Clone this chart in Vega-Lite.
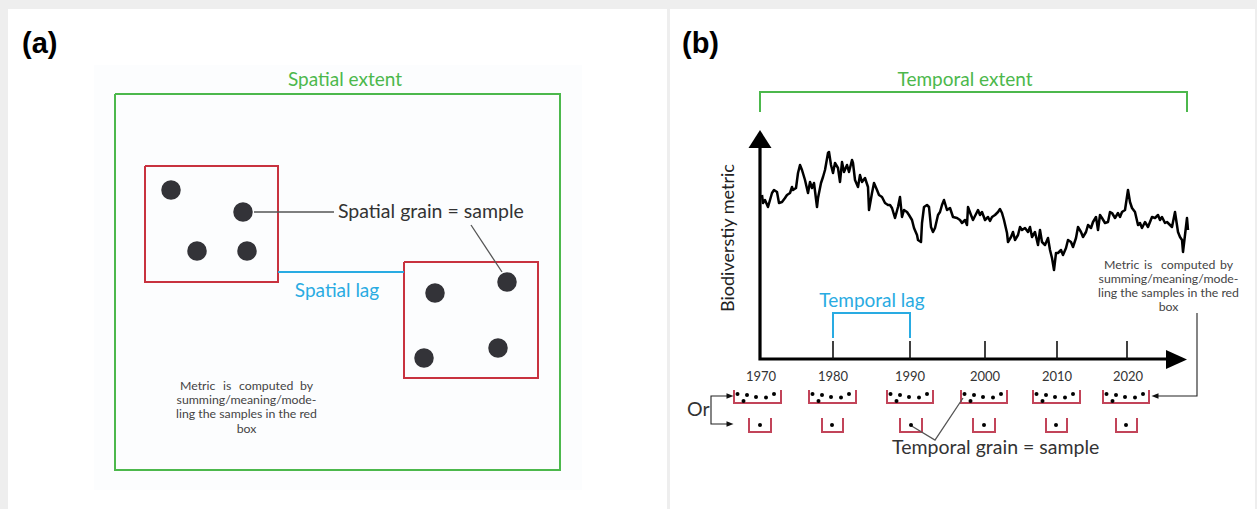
{
"$schema":"https://vega.github.io/schema/vega-lite/v6.json",
"width":1257,"height":509,
"autosize":{"type":"fit","contains":"padding"},
"padding":0,
"background":"#eeeeee",
"config":{"view":{"stroke":null}},
"datasets":{
"panels":[
{"kind":"panel","x":8,"x2":667,"y":9,"y2":509},
{"kind":"panel","x":670,"x2":1255,"y":9,"y2":509},
{"kind":"inner","x":94,"x2":582,"y":65,"y2":490}
],
"paths":[
{"id":"sp_ext","kind":"green","o":1,"x":115,"y":94},{"id":"sp_ext","kind":"green","o":2,"x":560,"y":94},{"id":"sp_ext","kind":"green","o":3,"x":560,"y":470},{"id":"sp_ext","kind":"green","o":4,"x":115,"y":470},{"id":"sp_ext","kind":"green","o":5,"x":115,"y":94},
{"id":"tm_ext","kind":"green","o":1,"x":760,"y":112},{"id":"tm_ext","kind":"green","o":2,"x":760,"y":92},{"id":"tm_ext","kind":"green","o":3,"x":1187,"y":92},{"id":"tm_ext","kind":"green","o":4,"x":1187,"y":112},
{"id":"box1","kind":"red","o":1,"x":145,"y":166},{"id":"box1","kind":"red","o":2,"x":278,"y":166},{"id":"box1","kind":"red","o":3,"x":278,"y":282},{"id":"box1","kind":"red","o":4,"x":145,"y":282},{"id":"box1","kind":"red","o":5,"x":145,"y":166},
{"id":"box2","kind":"red","o":1,"x":404,"y":262},{"id":"box2","kind":"red","o":2,"x":538,"y":262},{"id":"box2","kind":"red","o":3,"x":538,"y":378},{"id":"box2","kind":"red","o":4,"x":404,"y":378},{"id":"box2","kind":"red","o":5,"x":404,"y":262},
{"id":"sp_lag","kind":"blue","o":1,"x":278,"y":272},{"id":"sp_lag","kind":"blue","o":2,"x":404,"y":272},
{"id":"tm_lag","kind":"blue","o":1,"x":833,"y":338},{"id":"tm_lag","kind":"blue","o":2,"x":833,"y":313},{"id":"tm_lag","kind":"blue","o":3,"x":910,"y":313},{"id":"tm_lag","kind":"blue","o":4,"x":910,"y":338},
{"id":"u1970a","kind":"rose","o":1,"x":734,"y":390},{"id":"u1970a","kind":"rose","o":2,"x":734,"y":403},{"id":"u1970a","kind":"rose","o":3,"x":781,"y":403},{"id":"u1970a","kind":"rose","o":4,"x":781,"y":390},
{"id":"u1980a","kind":"rose","o":1,"x":809,"y":390},{"id":"u1980a","kind":"rose","o":2,"x":809,"y":403},{"id":"u1980a","kind":"rose","o":3,"x":856,"y":403},{"id":"u1980a","kind":"rose","o":4,"x":856,"y":390},
{"id":"u1990a","kind":"rose","o":1,"x":887,"y":390},{"id":"u1990a","kind":"rose","o":2,"x":887,"y":403},{"id":"u1990a","kind":"rose","o":3,"x":933,"y":403},{"id":"u1990a","kind":"rose","o":4,"x":933,"y":390},
{"id":"u2000a","kind":"rose","o":1,"x":961,"y":390},{"id":"u2000a","kind":"rose","o":2,"x":961,"y":403},{"id":"u2000a","kind":"rose","o":3,"x":1007,"y":403},{"id":"u2000a","kind":"rose","o":4,"x":1007,"y":390},
{"id":"u2010a","kind":"rose","o":1,"x":1033,"y":390},{"id":"u2010a","kind":"rose","o":2,"x":1033,"y":403},{"id":"u2010a","kind":"rose","o":3,"x":1080,"y":403},{"id":"u2010a","kind":"rose","o":4,"x":1080,"y":390},
{"id":"u2020a","kind":"rose","o":1,"x":1103,"y":390},{"id":"u2020a","kind":"rose","o":2,"x":1103,"y":403},{"id":"u2020a","kind":"rose","o":3,"x":1149,"y":403},{"id":"u2020a","kind":"rose","o":4,"x":1149,"y":390},
{"id":"u1970b","kind":"rose","o":1,"x":749,"y":418},{"id":"u1970b","kind":"rose","o":2,"x":749,"y":432},{"id":"u1970b","kind":"rose","o":3,"x":771,"y":432},{"id":"u1970b","kind":"rose","o":4,"x":771,"y":418},
{"id":"u1980b","kind":"rose","o":1,"x":822,"y":418},{"id":"u1980b","kind":"rose","o":2,"x":822,"y":432},{"id":"u1980b","kind":"rose","o":3,"x":843,"y":432},{"id":"u1980b","kind":"rose","o":4,"x":843,"y":418},
{"id":"u1990b","kind":"rose","o":1,"x":900,"y":418},{"id":"u1990b","kind":"rose","o":2,"x":900,"y":432},{"id":"u1990b","kind":"rose","o":3,"x":922,"y":432},{"id":"u1990b","kind":"rose","o":4,"x":922,"y":418},
{"id":"u2000b","kind":"rose","o":1,"x":973,"y":418},{"id":"u2000b","kind":"rose","o":2,"x":973,"y":432},{"id":"u2000b","kind":"rose","o":3,"x":995,"y":432},{"id":"u2000b","kind":"rose","o":4,"x":995,"y":418},
{"id":"u2010b","kind":"rose","o":1,"x":1046,"y":418},{"id":"u2010b","kind":"rose","o":2,"x":1046,"y":432},{"id":"u2010b","kind":"rose","o":3,"x":1067,"y":432},{"id":"u2010b","kind":"rose","o":4,"x":1067,"y":418},
{"id":"u2020b","kind":"rose","o":1,"x":1116,"y":418},{"id":"u2020b","kind":"rose","o":2,"x":1116,"y":432},{"id":"u2020b","kind":"rose","o":3,"x":1137,"y":432},{"id":"u2020b","kind":"rose","o":4,"x":1137,"y":418},
{"id":"yaxis","kind":"axis","o":1,"x":760,"y":146},{"id":"yaxis","kind":"axis","o":2,"x":760,"y":359},{"id":"yaxis","kind":"axis","o":3,"x":1168,"y":359},
{"id":"t1980","kind":"tick","o":1,"x":833,"y":341},{"id":"t1980","kind":"tick","o":2,"x":833,"y":359},
{"id":"t1990","kind":"tick","o":1,"x":910,"y":341},{"id":"t1990","kind":"tick","o":2,"x":910,"y":359},
{"id":"t2000","kind":"tick","o":1,"x":985,"y":341},{"id":"t2000","kind":"tick","o":2,"x":985,"y":359},
{"id":"t2010","kind":"tick","o":1,"x":1057,"y":341},{"id":"t2010","kind":"tick","o":2,"x":1057,"y":359},
{"id":"t2020","kind":"tick","o":1,"x":1127,"y":341},{"id":"t2020","kind":"tick","o":2,"x":1127,"y":359},
{"id":"pg1","kind":"thin","o":1,"x":254,"y":212},{"id":"pg1","kind":"thin","o":2,"x":334,"y":212},
{"id":"pg2","kind":"thin","o":1,"x":471,"y":225},{"id":"pg2","kind":"thin","o":2,"x":502,"y":272},
{"id":"tg","kind":"thin","o":1,"x":910,"y":425},{"id":"tg","kind":"thin","o":2,"x":935,"y":440},{"id":"tg","kind":"thin","o":3,"x":963,"y":398},
{"id":"mc","kind":"black","o":1,"x":1197,"y":313},{"id":"mc","kind":"black","o":2,"x":1197,"y":396},{"id":"mc","kind":"black","o":3,"x":1156,"y":396},
{"id":"or","kind":"black","o":1,"x":729,"y":396},{"id":"or","kind":"black","o":2,"x":711,"y":396},{"id":"or","kind":"black","o":3,"x":711,"y":424},{"id":"or","kind":"black","o":4,"x":729,"y":424}
],
"heads":[
{"kind":"up","x":760,"y":139},
{"kind":"right","x":1176.5,"y":359.5},
{"kind":"rsmall","x":730,"y":396},
{"kind":"rsmall","x":730,"y":424},
{"kind":"lsmall","x":1155,"y":396}
],
"dots":[
{"kind":"big","x":171,"y":190},{"kind":"big","x":243,"y":212},{"kind":"big","x":197,"y":251},{"kind":"big","x":247,"y":251},
{"kind":"big","x":435,"y":293},{"kind":"big","x":507,"y":282},{"kind":"big","x":424,"y":358},{"kind":"big","x":498,"y":348},
{"kind":"small","x":737.5,"y":394},{"kind":"small","x":743.5,"y":401},{"kind":"small","x":747,"y":395},{"kind":"small","x":756,"y":397},{"kind":"small","x":766,"y":397.5},{"kind":"small","x":774,"y":394},
{"kind":"small","x":812.5,"y":394},{"kind":"small","x":818.5,"y":401},{"kind":"small","x":822,"y":395},{"kind":"small","x":831,"y":397},{"kind":"small","x":841,"y":397.5},{"kind":"small","x":849,"y":394},
{"kind":"small","x":890.5,"y":394},{"kind":"small","x":896.5,"y":401},{"kind":"small","x":900,"y":395},{"kind":"small","x":909,"y":397},{"kind":"small","x":919,"y":397.5},{"kind":"small","x":927,"y":394},
{"kind":"small","x":964.5,"y":394},{"kind":"small","x":970.5,"y":401},{"kind":"small","x":974,"y":395},{"kind":"small","x":983,"y":397},{"kind":"small","x":993,"y":397.5},{"kind":"small","x":1001,"y":394},
{"kind":"small","x":1036.5,"y":394},{"kind":"small","x":1042.5,"y":401},{"kind":"small","x":1046,"y":395},{"kind":"small","x":1055,"y":397},{"kind":"small","x":1065,"y":397.5},{"kind":"small","x":1073,"y":394},
{"kind":"small","x":1106.5,"y":394},{"kind":"small","x":1112.5,"y":401},{"kind":"small","x":1116,"y":395},{"kind":"small","x":1125,"y":397},{"kind":"small","x":1135,"y":397.5},{"kind":"small","x":1143,"y":394},
{"kind":"small","x":760,"y":425},{"kind":"small","x":832,"y":425},{"kind":"small","x":911,"y":425},{"kind":"small","x":984,"y":425},{"kind":"small","x":1056,"y":425},{"kind":"small","x":1126,"y":425}
],
"series":[
{"x":762,"y":195},{"x":763,"y":203},{"x":765,"y":200},{"x":768,"y":207},{"x":772,"y":193},{"x":774,"y":190},{"x":777,"y":192},{"x":779,"y":203},{"x":782,"y":202},{"x":785,"y":198},{"x":787,"y":195},{"x":790,"y":193},{"x":792,"y":187},{"x":793,"y":190},{"x":796,"y":188},{"x":798,"y":173},{"x":800,"y":165},{"x":802,"y":170},{"x":805,"y":180},{"x":808,"y":193},{"x":810,"y":182},{"x":812,"y":188},{"x":814,"y":183},{"x":817,"y":207},{"x":818,"y":198},{"x":821,"y":183},{"x":823,"y":177},{"x":825,"y":170},{"x":828,"y":153},{"x":829,"y":152},{"x":831,"y":165},{"x":833,"y":173},{"x":835,"y":163},{"x":838,"y":168},{"x":840,"y":182},{"x":842,"y":162},{"x":844,"y":172},{"x":847,"y":165},{"x":849,"y":172},{"x":852,"y":160},{"x":853,"y":163},{"x":855,"y":180},{"x":858,"y":187},{"x":860,"y":175},{"x":862,"y":182},{"x":865,"y":178},{"x":868,"y":187},{"x":869,"y":210},{"x":872,"y":193},{"x":874,"y":183},{"x":877,"y":190},{"x":879,"y":195},{"x":882,"y":197},{"x":885,"y":203},{"x":888,"y":205},{"x":890,"y":205},{"x":892,"y":208},{"x":895,"y":218},{"x":898,"y":207},{"x":900,"y":197},{"x":902,"y":217},{"x":904,"y":210},{"x":907,"y":212},{"x":909,"y":215},{"x":912,"y":220},{"x":914,"y":228},{"x":917,"y":235},{"x":918,"y":240},{"x":921,"y":242},{"x":922,"y":223},{"x":924,"y":207},{"x":927,"y":205},{"x":929,"y":207},{"x":931,"y":227},{"x":933,"y":232},{"x":935,"y":228},{"x":938,"y":215},{"x":940,"y":212},{"x":942,"y":205},{"x":944,"y":200},{"x":947,"y":210},{"x":950,"y":208},{"x":953,"y":217},{"x":957,"y":218},{"x":960,"y":220},{"x":962,"y":223},{"x":965,"y":220},{"x":967,"y":225},{"x":968,"y":207},{"x":971,"y":215},{"x":973,"y":220},{"x":976,"y":214},{"x":978,"y":210},{"x":980,"y":215},{"x":982,"y":212},{"x":985,"y":220},{"x":988,"y":217},{"x":990,"y":221},{"x":992,"y":217},{"x":995,"y":215},{"x":998,"y":212},{"x":1000,"y":209},{"x":1002,"y":213},{"x":1004,"y":220},{"x":1007,"y":233},{"x":1008,"y":242},{"x":1011,"y":237},{"x":1013,"y":232},{"x":1015,"y":240},{"x":1018,"y":235},{"x":1020,"y":227},{"x":1022,"y":230},{"x":1025,"y":228},{"x":1028,"y":232},{"x":1030,"y":227},{"x":1032,"y":237},{"x":1035,"y":232},{"x":1038,"y":245},{"x":1040,"y":230},{"x":1042,"y":242},{"x":1045,"y":245},{"x":1048,"y":238},{"x":1050,"y":250},{"x":1052,"y":258},{"x":1054,"y":270},{"x":1056,"y":253},{"x":1058,"y":253},{"x":1061,"y":250},{"x":1063,"y":255},{"x":1066,"y":248},{"x":1068,"y":240},{"x":1071,"y":242},{"x":1073,"y":247},{"x":1076,"y":238},{"x":1078,"y":227},{"x":1081,"y":232},{"x":1083,"y":237},{"x":1086,"y":232},{"x":1088,"y":225},{"x":1091,"y":228},{"x":1093,"y":222},{"x":1096,"y":217},{"x":1098,"y":230},{"x":1100,"y":215},{"x":1102,"y":218},{"x":1105,"y":223},{"x":1108,"y":222},{"x":1110,"y":212},{"x":1112,"y":213},{"x":1115,"y":218},{"x":1118,"y":213},{"x":1120,"y":217},{"x":1122,"y":212},{"x":1125,"y":210},{"x":1128,"y":190},{"x":1130,"y":202},{"x":1132,"y":208},{"x":1135,"y":212},{"x":1138,"y":225},{"x":1140,"y":223},{"x":1142,"y":228},{"x":1145,"y":222},{"x":1148,"y":227},{"x":1150,"y":222},{"x":1152,"y":217},{"x":1155,"y":218},{"x":1158,"y":215},{"x":1160,"y":220},{"x":1162,"y":217},{"x":1165,"y":223},{"x":1167,"y":222},{"x":1170,"y":225},{"x":1172,"y":227},{"x":1175,"y":212},{"x":1178,"y":232},{"x":1180,"y":237},{"x":1182,"y":240},{"x":1183,"y":252},{"x":1185,"y":235},{"x":1187,"y":218},{"x":1188,"y":230}
],
"texts":[
{"kind":"bold","t":"(a)","x":22,"y":44},
{"kind":"bold","t":"(b)","x":682,"y":44},
{"kind":"green","t":"Spatial extent","x":345,"y":80},
{"kind":"green","t":"Temporal extent","x":965,"y":80},
{"kind":"blue","t":"Spatial lag","x":337,"y":291},
{"kind":"blue","t":"Temporal lag","x":872,"y":301},
{"kind":"dark","t":"Spatial grain = sample","x":338,"y":212},
{"kind":"dark","t":"Temporal grain = sample","x":892,"y":448},
{"kind":"dark","t":"Or","x":687,"y":410},
{"kind":"smalll","t":"Metric","x":180,"y":386},
{"kind":"smalll","t":"is","x":223,"y":386},
{"kind":"smalll","t":"computed","x":239,"y":386},
{"kind":"smallr","t":"by","x":313,"y":386},
{"kind":"smallc","t":"summing/meaning/mode-","x":246.5,"y":400},
{"kind":"smallc","t":"ling the samples in the red","x":246.5,"y":414},
{"kind":"smallc","t":"box","x":246.5,"y":429},
{"kind":"smalll","t":"Metric","x":1104,"y":265},
{"kind":"smalll","t":"is","x":1144,"y":265},
{"kind":"smalll","t":"computed","x":1161,"y":265},
{"kind":"smallr","t":"by","x":1233,"y":265},
{"kind":"smallc","t":"summing/meaning/mode-","x":1168.5,"y":279},
{"kind":"smallc","t":"ling the samples in the red","x":1168.5,"y":293},
{"kind":"smallc","t":"box","x":1168.5,"y":307},
{"kind":"year","t":"1970","x":761,"y":377},
{"kind":"year","t":"1980","x":833,"y":377},
{"kind":"year","t":"1990","x":910,"y":377},
{"kind":"year","t":"2000","x":985,"y":377},
{"kind":"year","t":"2010","x":1057,"y":377},
{"kind":"year","t":"2020","x":1128,"y":377},
{"kind":"ylabel","t":"Biodiverstiy metric","x":729,"y":238}
]
},
"encoding":{
"x":{"field":"x","type":"quantitative","scale":{"domain":[0,1257],"nice":false,"zero":false},"axis":null},
"y":{"field":"y","type":"quantitative","scale":{"domain":[0,509],"nice":false,"zero":false,"reverse":true},"axis":null}
},
"layer":[
{"data":{"name":"panels"},"transform":[{"filter":"datum.kind==='panel'"}],"mark":{"type":"rect","fill":"#ffffff"},"encoding":{"x2":{"field":"x2"},"y2":{"field":"y2"}}},
{"data":{"name":"panels"},"transform":[{"filter":"datum.kind==='inner'"}],"mark":{"type":"rect","fill":"#fcfdfe"},"encoding":{"x2":{"field":"x2"},"y2":{"field":"y2"}}},
{"data":{"name":"paths"},"transform":[{"filter":"datum.kind==='green'"}],"mark":{"type":"line","stroke":"#4cb84c","strokeWidth":2,"strokeJoin":"miter"},"encoding":{"detail":{"field":"id"},"order":{"field":"o"}}},
{"data":{"name":"paths"},"transform":[{"filter":"datum.kind==='red'"}],"mark":{"type":"line","stroke":"#c8323f","strokeWidth":2,"strokeJoin":"miter"},"encoding":{"detail":{"field":"id"},"order":{"field":"o"}}},
{"data":{"name":"paths"},"transform":[{"filter":"datum.kind==='rose'"}],"mark":{"type":"line","stroke":"#c24459","strokeWidth":2,"strokeJoin":"miter"},"encoding":{"detail":{"field":"id"},"order":{"field":"o"}}},
{"data":{"name":"paths"},"transform":[{"filter":"datum.kind==='blue'"}],"mark":{"type":"line","stroke":"#29abe2","strokeWidth":2,"strokeJoin":"miter"},"encoding":{"detail":{"field":"id"},"order":{"field":"o"}}},
{"data":{"name":"paths"},"transform":[{"filter":"datum.kind==='axis'"}],"mark":{"type":"line","stroke":"#000000","strokeWidth":3.2,"strokeJoin":"miter"},"encoding":{"detail":{"field":"id"},"order":{"field":"o"}}},
{"data":{"name":"paths"},"transform":[{"filter":"datum.kind==='tick'"}],"mark":{"type":"line","stroke":"#111111","strokeWidth":1.6},"encoding":{"detail":{"field":"id"},"order":{"field":"o"}}},
{"data":{"name":"paths"},"transform":[{"filter":"datum.kind==='thin'"}],"mark":{"type":"line","stroke":"#555555","strokeWidth":1.3},"encoding":{"detail":{"field":"id"},"order":{"field":"o"}}},
{"data":{"name":"paths"},"transform":[{"filter":"datum.kind==='black'"}],"mark":{"type":"line","stroke":"#222222","strokeWidth":1.1,"strokeJoin":"miter"},"encoding":{"detail":{"field":"id"},"order":{"field":"o"}}},
{"data":{"name":"series"},"mark":{"type":"line","stroke":"#000000","strokeWidth":2.5,"strokeJoin":"round"}},
{"data":{"name":"heads"},"transform":[{"filter":"datum.kind==='up'"}],"mark":{"type":"point","shape":"M0,-0.78L1,0.78L-1,0.78Z","size":529,"filled":true,"fill":"#000000","stroke":null,"opacity":1}},
{"data":{"name":"heads"},"transform":[{"filter":"datum.kind==='right'"}],"mark":{"type":"point","shape":"M1,0L-1,-0.9L-1,0.9Z","size":441,"filled":true,"fill":"#000000","stroke":null,"opacity":1}},
{"data":{"name":"heads"},"transform":[{"filter":"datum.kind==='rsmall'"}],"mark":{"type":"point","shape":"M1,0L-1,-0.8L-1,0.8Z","size":49,"filled":true,"fill":"#111111","stroke":null,"opacity":1}},
{"data":{"name":"heads"},"transform":[{"filter":"datum.kind==='lsmall'"}],"mark":{"type":"point","shape":"M-1,0L1,-0.8L1,0.8Z","size":49,"filled":true,"fill":"#111111","stroke":null,"opacity":1}},
{"data":{"name":"dots"},"transform":[{"filter":"datum.kind==='big'"}],"mark":{"type":"circle","size":380,"fill":"#333338","opacity":1}},
{"data":{"name":"dots"},"transform":[{"filter":"datum.kind==='small'"}],"mark":{"type":"circle","size":16,"fill":"#000000","opacity":1}},
{"data":{"name":"texts"},"transform":[{"filter":"datum.kind==='bold'"}],"mark":{"type":"text","font":"Liberation Sans","fontWeight":"bold","fontSize":29,"align":"left","baseline":"middle","fill":"#000000"},"encoding":{"text":{"field":"t"}}},
{"data":{"name":"texts"},"transform":[{"filter":"datum.kind==='green'"}],"mark":{"type":"text","font":"Lato","fontSize":19,"align":"center","baseline":"middle","fill":"#4cb84c"},"encoding":{"text":{"field":"t"}}},
{"data":{"name":"texts"},"transform":[{"filter":"datum.kind==='blue'"}],"mark":{"type":"text","font":"Lato","fontSize":19,"align":"center","baseline":"middle","fill":"#29abe2"},"encoding":{"text":{"field":"t"}}},
{"data":{"name":"texts"},"transform":[{"filter":"datum.kind==='dark'"}],"mark":{"type":"text","font":"Lato","fontSize":19.5,"align":"left","baseline":"middle","fill":"#333333"},"encoding":{"text":{"field":"t"}}},
{"data":{"name":"texts"},"transform":[{"filter":"datum.kind==='smalll'"}],"mark":{"type":"text","font":"Lato","fontSize":12.3,"align":"left","baseline":"middle","fill":"#444444"},"encoding":{"text":{"field":"t"}}},
{"data":{"name":"texts"},"transform":[{"filter":"datum.kind==='smallr'"}],"mark":{"type":"text","font":"Lato","fontSize":12.3,"align":"right","baseline":"middle","fill":"#444444"},"encoding":{"text":{"field":"t"}}},
{"data":{"name":"texts"},"transform":[{"filter":"datum.kind==='smallc'"}],"mark":{"type":"text","font":"Lato","fontSize":12.3,"align":"center","baseline":"middle","fill":"#444444"},"encoding":{"text":{"field":"t"}}},
{"data":{"name":"texts"},"transform":[{"filter":"datum.kind==='year'"}],"mark":{"type":"text","font":"Lato","fontSize":13,"align":"center","baseline":"middle","fill":"#333333"},"encoding":{"text":{"field":"t"}}},
{"data":{"name":"texts"},"transform":[{"filter":"datum.kind==='ylabel'"}],"mark":{"type":"text","font":"Lato","fontSize":18,"align":"center","baseline":"middle","angle":270,"fill":"#222222"},"encoding":{"text":{"field":"t"}}}
]
}
